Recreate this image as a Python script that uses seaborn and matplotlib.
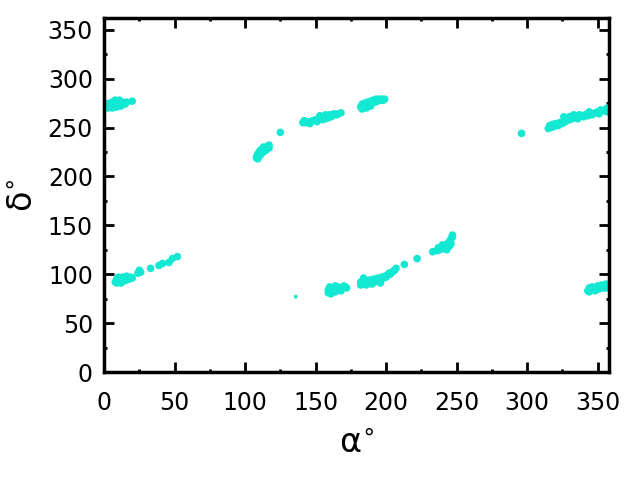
import matplotlib
matplotlib.use("Agg")
import matplotlib.pyplot as plt
import seaborn as sns
import pandas as pd
from matplotlib.ticker import MultipleLocator

# cluster points (alpha, delta) in degrees
alpha_A = [1, 2, 3, 4, 5, 6, 7, 8, 9, 10, 11, 12, 13, 14, 15, 16, 3, 6, 9, 12, 8, 11, 20]
delta_A = [272, 274, 271, 275, 273, 276, 272, 275, 277, 273, 276, 274, 276, 275, 274, 276, 270, 270, 271, 272, 278, 278, 277]

alpha_B = [108, 108.5, 109, 109.5, 110, 110.5, 111, 112, 112.5, 113, 114, 115, 115.5, 116, 117, 117, 109, 111, 113, 125]
delta_B = [219, 221, 223, 220, 224, 226, 222, 226, 228, 225, 229, 227, 230, 231, 229, 232, 218, 227, 230, 245]

alpha_C = [141, 142, 143, 145, 146, 148, 150, 151, 152, 154, 155, 156, 157, 158, 159, 160, 161, 162, 163, 165, 166, 168, 153, 157]
delta_C = [255, 257, 255, 256, 254, 257, 258, 256, 259, 260, 258, 261, 259, 262, 260, 263, 261, 262, 264, 263, 264, 265, 262, 263]

alpha_D = [182, 183, 184, 185, 186, 187, 188, 189, 190, 191, 192, 193, 194, 195, 196, 197, 198, 199, 183, 186, 189]
delta_D = [271, 274, 272, 275, 273, 276, 274, 277, 275, 278, 276, 279, 277, 279, 278, 279, 278, 279, 269, 270, 272]

alpha_E = [296, 315, 316, 317, 318, 319, 320, 322, 323, 325, 327, 328, 330, 332, 334, 335, 336, 338, 340,
           341, 343, 345, 346, 348, 350, 351, 353, 355, 356, 357, 330, 337, 344, 352, 326, 333, 357]
delta_E = [244, 249, 252, 250, 253, 251, 254, 252, 255, 254, 256, 257, 258, 259, 260, 261, 259, 262, 261,
           263, 262, 264, 263, 265, 266, 264, 267, 267, 269, 270, 261, 263, 266, 268, 261, 263, 266]

alpha_F = [8, 9, 10, 11, 12, 13, 14, 15, 16, 17, 18, 19, 20, 10, 13, 16, 9, 12,
           24, 25, 26, 33, 39, 41.5, 46, 48.5, 52]
delta_F = [92, 95, 93, 96, 94, 92, 95, 97, 94, 96, 95, 97, 96, 97, 97, 98, 91, 91,
           101, 104, 102, 106, 109, 111, 112, 116, 118]

alpha_G = [159, 159, 160, 161, 162, 163, 164, 165, 166, 167, 168, 169, 170, 171, 172, 161, 164, 160,
           182, 182, 183, 184, 185, 186, 187, 188, 189, 190, 191, 192, 193, 194, 195, 196, 197, 198, 199,
           200, 201, 202, 203, 204, 205, 206, 207, 184, 190, 196,
           213, 222, 233,
           236, 237, 238, 239, 240, 241, 242, 243, 244, 244, 245, 246, 247, 247, 246, 243, 240, 245]
delta_G = [81, 84, 82, 85, 83, 86, 82, 84, 87, 85, 83, 86, 88, 87, 86, 80, 88, 87,
           89, 92, 90, 93, 91, 89, 92, 94, 91, 93, 95, 92, 94, 96, 93, 95, 97, 96, 98,
           97, 99, 101, 100, 102, 103, 104, 106, 96, 90, 91,
           110, 116, 123,
           124, 127, 125, 128, 126, 129, 127, 130, 128, 132, 134, 136, 138, 140, 131, 125, 130, 129]

alpha_H = [343, 344, 345, 346, 347, 348, 349, 350, 351, 352, 353, 354, 355, 356, 344, 349, 356]
delta_H = [83, 86, 84, 87, 85, 83, 86, 88, 85, 87, 89, 86, 88, 90, 82, 84, 86]

alpha_small = [136]
delta_small = [77]

alpha = alpha_A + alpha_B + alpha_C + alpha_D + alpha_E + alpha_F + alpha_G + alpha_H
delta = delta_A + delta_B + delta_C + delta_D + delta_E + delta_F + delta_G + delta_H
df = pd.DataFrame({"alpha": alpha, "delta": delta})
df_small = pd.DataFrame({"alpha": alpha_small, "delta": delta_small})

sns.set_style("white")
plt.rcParams['font.family'] = ['DejaVu Sans']
plt.rcParams['text.color'] = 'black'
plt.rcParams['axes.labelcolor'] = 'black'

color = "#12e8d2"
fig = plt.figure(figsize=(6.4, 4.8), dpi=100)
ax = fig.add_axes([0.1625, 0.225, 0.789, 0.7375])

sns.scatterplot(data=df, x="alpha", y="delta", ax=ax, s=30, color=color, edgecolor="none", linewidth=0)
sns.scatterplot(data=df_small, x="alpha", y="delta", ax=ax, s=8, color=color, edgecolor="none", linewidth=0)

ax.set_xlim(0, 358)
ax.set_ylim(0, 362)
ax.xaxis.set_major_locator(MultipleLocator(50))
ax.xaxis.set_minor_locator(MultipleLocator(25))
ax.yaxis.set_major_locator(MultipleLocator(50))
ax.yaxis.set_minor_locator(MultipleLocator(25))
ax.tick_params(which="both", direction="in", top=True, right=True, bottom=True, left=True,
               labelsize=17, color="black", labelcolor="black")
ax.tick_params(which="major", length=7, width=2)
ax.tick_params(which="minor", length=2.5, width=2)
ax.tick_params(axis="x", which="major", pad=14)
ax.tick_params(axis="y", which="major", pad=8)
for sp in ax.spines.values():
    sp.set_linewidth(2.5)
    sp.set_color("black")

ax.set_xlabel("α$^{\\circ}$", fontsize=24, labelpad=8)
ax.set_ylabel("δ$^{\\circ}$", fontsize=24, labelpad=6)

fig.savefig("out.png", dpi=100)
